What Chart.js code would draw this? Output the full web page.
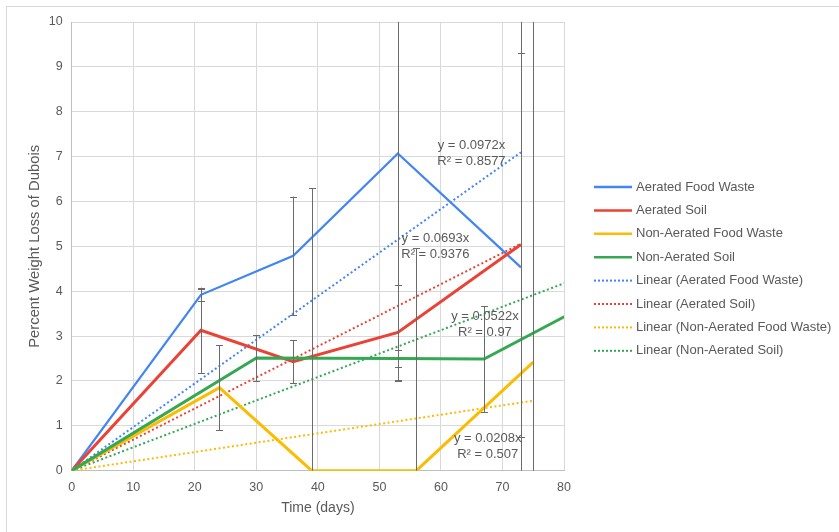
<!DOCTYPE html>
<html>
<head>
<meta charset="utf-8">
<script src="https://cdn.jsdelivr.net/npm/chart.js@4"></script>
<style>
  html, body { margin: 0; padding: 0; background: #fff; }
  #wrap { width: 839px; height: 532px; position: relative; }
</style>
</head>
<body>
<div id="wrap"><canvas id="lossChart" width="839" height="532"></canvas></div>
<script>
// sampling days and weight loss (%) for each treatment
var afwDays = [0, 21, 36, 53, 73];
var afwLoss = [0, 3.92, 4.79, 7.07, 4.53];
var afwErr  = [0, 0.13, 1.32, 5.07, 6.5];

var asDays = [0, 21, 36, 53, 73];
var asLoss = [0, 3.13, 2.43, 3.08, 5.04];
var asErr  = [0, 0.95, 0.48, 1.06, 4.28];

var nafwDays = [0, 24, 39, 56, 75];
var nafwLoss = [0, 1.85, 0, 0, 2.42];
var nafwErr  = [0, 0.95, 6.3, 4.96, 9];

var nasDays = [0, 30, 53, 67, 81];
var nasLoss = [0, 2.51, 2.5, 2.49, 3.5];
var nasErr  = [0, 0.51, 0.19, 1.18, 1];

// linear fits through origin (slope, R²)
var fitSlope = [0.0972, 0.0693, 0.0208, 0.0522];
var fitR2    = ['0.8577', '0.9376', '0.507', '0.97'];

var seriesNames = ['Aerated Food Waste', 'Aerated Soil', 'Non-Aerated Food Waste', 'Non-Aerated Soil'];
var xTicks = [0, 10, 20, 30, 40, 50, 60, 70, 80];
var yTicks = [0, 1, 2, 3, 4, 5, 6, 7, 8, 9, 10];

var colors = ['#4285F4', '#EA4335', '#FBBC04', '#34A853'];
var textGray = '#595959';
var font = '"Liberation Sans", Arial, sans-serif';

function pts(xs, ys) {
    return xs.map(function (x, i) { return { x: x, y: ys[i] }; });
}

var allDays = [afwDays, asDays, nafwDays, nasDays];
var allLoss = [afwLoss, asLoss, nafwLoss, nasLoss];
var allErr  = [afwErr, asErr, nafwErr, nasErr];

var datasets = [];
for (var i = 0; i < 4; i++) {
    datasets.push({
        label: seriesNames[i],
        data: pts(allDays[i], allLoss[i]),
        borderColor: colors[i],
        backgroundColor: colors[i],
        borderWidth: i === 0 ? 2.25 : 3,
        showLine: true,
        pointRadius: 0,
        order: 4 - i,
        errors: allErr[i]
    });
}
for (var j = 0; j < 4; j++) {
    var last = allDays[j][allDays[j].length - 1];
    datasets.push({
        label: 'Linear (' + seriesNames[j] + ')',
        data: [{ x: 0, y: 0 }, { x: last, y: fitSlope[j] * last }],
        borderColor: colors[j],
        backgroundColor: colors[j],
        borderWidth: 2,
        borderDash: [2, 2.5],
        showLine: true,
        pointRadius: 0,
        order: 8 - j
    });
}

// where each fit equation sits, in axis units
var eqSpots = [
    { x: 64.96, y: 7.08 },
    { x: 59.1, y: 5.0 },
    { x: 67.6, y: 0.54 },
    { x: 67.15, y: 3.26 }
];

var chartDecor = {
    id: 'chartDecor',
    beforeDraw: function (chart) {
        var ctx = chart.ctx;
        ctx.save();
        ctx.strokeStyle = '#d9d9d9';
        ctx.lineWidth = 1;
        ctx.strokeRect(6.5, 6.5, 900, 600);
        ctx.restore();
    },
    afterDatasetsDraw: function (chart) {
        var ctx = chart.ctx, xs = chart.scales.x, ys = chart.scales.y, a = chart.chartArea;
        ctx.save();
        ctx.beginPath();
        ctx.rect(a.left, a.top, a.right - a.left, a.bottom - a.top);
        ctx.clip();
        ctx.strokeStyle = '#6b6b6b';
        ctx.lineWidth = 1;
        chart.data.datasets.forEach(function (ds) {
            if (!ds.errors) return;
            ds.data.forEach(function (p, k) {
                var e = ds.errors[k];
                if (!e) return;
                var px = Math.round(xs.getPixelForValue(p.x)) + 0.5;
                var top = ys.getPixelForValue(p.y + e);
                var bot = ys.getPixelForValue(p.y - e);
                ctx.beginPath();
                ctx.moveTo(px, top); ctx.lineTo(px, bot);
                ctx.moveTo(px - 3.5, Math.round(top) + 0.5); ctx.lineTo(px + 3.5, Math.round(top) + 0.5);
                ctx.moveTo(px - 3.5, Math.round(bot) + 0.5); ctx.lineTo(px + 3.5, Math.round(bot) + 0.5);
                ctx.stroke();
            });
        });
        ctx.restore();

        // fit equations
        ctx.save();
        ctx.fillStyle = textGray;
        ctx.font = '13px ' + font;
        ctx.textAlign = 'center';
        ctx.textBaseline = 'middle';
        eqSpots.forEach(function (s, k) {
            var cx = xs.getPixelForValue(s.x), cy = ys.getPixelForValue(s.y);
            ctx.fillText('y = ' + fitSlope[k] + 'x', cx, cy - 8);
            ctx.fillText('R\u00b2 = ' + fitR2[k], cx, cy + 8);
        });
        ctx.restore();
    },
    afterDraw: function (chart) {
        // legend column on the right
        var ctx = chart.ctx;
        ctx.save();
        ctx.font = '13px ' + font;
        ctx.textBaseline = 'middle';
        ctx.fillStyle = textGray;
        chart.data.datasets.forEach(function (ds, k) {
            var y = 187 + k * 23.4;
            ctx.beginPath();
            ctx.strokeStyle = ds.borderColor;
            ctx.lineWidth = ds.borderDash ? 2 : 2.5;
            ctx.setLineDash(ds.borderDash ? [2, 2] : []);
            ctx.moveTo(594, y);
            ctx.lineTo(632, y);
            ctx.stroke();
            ctx.setLineDash([]);
            ctx.fillText(ds.label, 636, y);
        });
        ctx.restore();
    }
};

new Chart(document.getElementById('lossChart'), {
    type: 'scatter',
    data: { datasets: datasets },
    options: {
        responsive: false,
        animation: false,
        layout: { padding: { left: 6, right: 275, top: 22, bottom: 6 } },
        plugins: { legend: { display: false }, tooltip: { enabled: false } },
        scales: {
            x: {
                type: 'linear', min: 0, max: 80,
                afterFit: function (s) { s.height = 55.3; },
                afterBuildTicks: function (s) { s.ticks = xTicks.map(function (v) { return { value: v }; }); },
                grid: { color: '#d9d9d9', drawTicks: false },
                border: { color: '#bfbfbf' },
                ticks: { color: textGray, font: { family: font, size: 12.5 }, padding: 9, maxRotation: 0 },
                title: { display: true, text: 'Time (days)', color: textGray, font: { family: font, size: 14 }, padding: { top: 4, bottom: 9 } }
            },
            y: {
                type: 'linear', min: 0, max: 10,
                afterFit: function (s) { s.width = 65.7; },
                afterBuildTicks: function (s) { s.ticks = yTicks.map(function (v) { return { value: v }; }); },
                grid: { color: '#d9d9d9', drawTicks: false },
                border: { color: '#bfbfbf' },
                ticks: { color: textGray, font: { family: font, size: 12.5 }, padding: 9 },
                title: { display: true, text: 'Percent Weight Loss of Dubois', color: textGray, font: { family: font, size: 14.8 }, padding: { top: 20, bottom: 0 } }
            }
        }
    },
    plugins: [chartDecor]
});
</script>
</body>
</html>
